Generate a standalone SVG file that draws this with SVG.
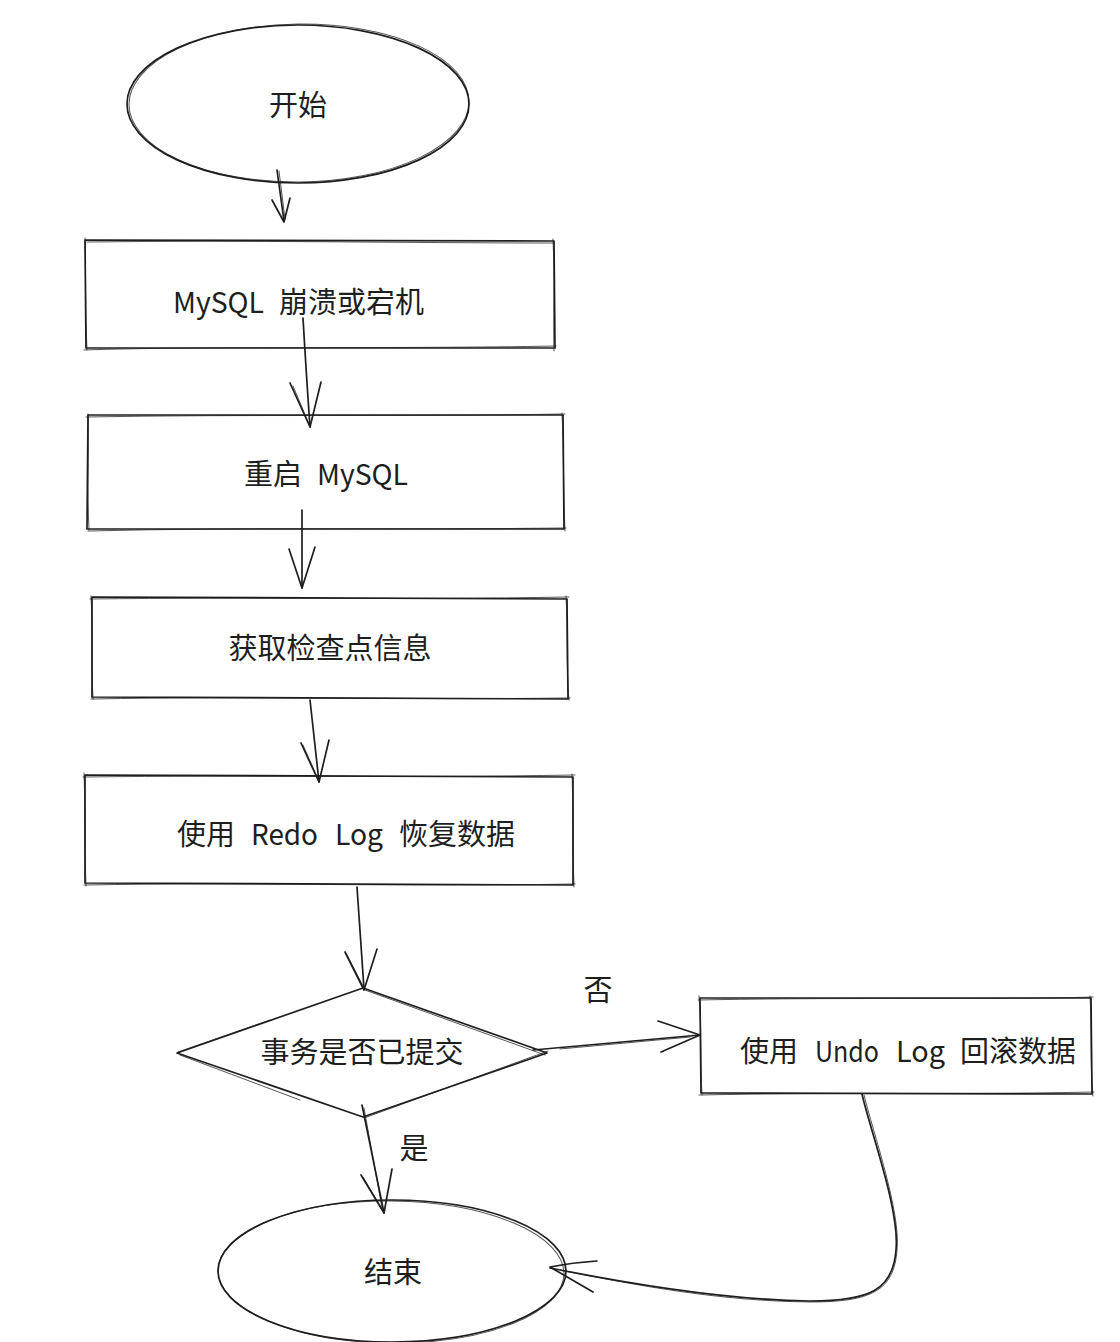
<svg xmlns="http://www.w3.org/2000/svg" width="1120" height="1342" viewBox="0 0 1120 1342">
<style>
.s{fill:none;stroke:#1e1e1e;stroke-width:1.7;stroke-linecap:round;stroke-linejoin:round}
.s2{fill:none;stroke:#1e1e1e;stroke-width:1;stroke-linecap:round;stroke-linejoin:round;opacity:.75}
.t{font-family:"Noto Sans CJK SC","Noto Sans",sans-serif;font-size:29px;fill:#1e1e1e;dominant-baseline:central}
.c{text-anchor:middle}
</style>
<rect x="0" y="0" width="1120" height="1342" fill="#ffffff"/>

<g id="connectors">
  <path class="s" d="M277,170 L284,221"/>
  <path class="s2" d="M279,171 L285,219"/>
  <path class="s" d="M272,200 L284,222 L290,198"/>

  <path class="s" d="M303,318 Q306,370 310,427"/>
  <path class="s" d="M290,383 L310,427 L321,382"/>
  <path class="s2" d="M293,386 L309,424"/>

  <path class="s" d="M302,510 L302,588"/>
  <path class="s" d="M289,549 L302,588 L315,547"/>

  <path class="s" d="M310,700 L319,782"/>
  <path class="s" d="M301,743 L319,782 L329,740"/>
  <path class="s2" d="M303,745 L318,779"/>

  <path class="s" d="M357,887 L364,989"/>
  <path class="s" d="M345,952 L364,990 L377,949"/>
  <path class="s2" d="M347,955 L363,986"/>

  <path class="s" d="M533,1050 L700,1035"/>
  <path class="s2" d="M560,1049 L690,1037"/>
  <path class="s" d="M658,1021 L700,1035 L661,1052"/>

  <path class="s" d="M362,1105 L384,1213"/>
  <path class="s2" d="M364,1108 L382,1208"/>
  <path class="s" d="M361,1175 L384,1213 L392,1169"/>
  <path class="s2" d="M363,1177 L382,1209"/>

  <path class="s" d="M862,1094 C870,1130 900,1210 896,1250 C893,1290 870,1301 810,1301 C720,1300 620,1282 550,1268"/>
  <path class="s2" d="M864,1095 C873,1132 901,1212 897,1250 C894,1291 871,1302 810,1302 C720,1301 640,1286 560,1270"/>
  <path class="s" d="M597,1261 C580,1262 565,1264 550,1267 L593,1292"/>
</g>

<g id="node-start">
  <ellipse class="s" cx="298" cy="104" rx="171" ry="79"/>
  <ellipse class="s2" cx="299" cy="103" rx="170" ry="79" transform="rotate(-0.6 299 103)"/>
  <text class="t c" x="298" y="103">开始</text>
</g>

<g id="node-crash">
  <path class="s" d="M85,240 L554,241 L555,348 L86,348 Z"/>
  <path class="s2" d="M87,242 C250,240 400,243 553,243 M553,239 C555,280 553,320 554,351 M556,346 C400,349 200,346 84,350 M87,350 C85,310 86,270 85,238"/>
  <text class="t" y="300"><tspan x="173" textLength="91" lengthAdjust="spacingAndGlyphs">MySQL</tspan><tspan x="279">崩溃或宕机</tspan></text>
</g>

<g id="node-restart">
  <path class="s" d="M88,415 L563,415 L564,529 L87,529 Z"/>
  <path class="s2" d="M86,417 C250,414 400,417 565,414 M562,413 C564,450 563,490 565,531 M566,528 C400,530 250,527 88,531 M89,530 C87,490 89,450 88,414"/>
  <text class="t" y="472"><tspan x="244">重启</tspan><tspan x="317" textLength="91" lengthAdjust="spacingAndGlyphs">MySQL</tspan></text>
</g>

<g id="node-checkpoint">
  <path class="s" d="M92,597 L567,599 L568,699 L92,697 Z"/>
  <path class="s2" d="M90,599 C250,597 400,600 569,597 M566,596 C568,630 566,670 569,700 M570,698 C400,700 250,696 91,699 M93,699 C91,660 93,630 91,596"/>
  <text class="t c" x="330" y="646">获取检查点信息</text>
</g>

<g id="node-redo">
  <path class="s" d="M85,775 L573,777 L573,885 L85,883 Z"/>
  <path class="s2" d="M83,777 C250,775 400,778 575,775 M572,774 C574,810 572,850 574,887 M575,884 C400,887 250,882 84,885 M86,886 C84,850 86,810 84,773"/>
  <text class="t" y="832"><tspan x="177">使用</tspan><tspan x="251" textLength="67" lengthAdjust="spacingAndGlyphs">Redo</tspan><tspan x="335" textLength="48" lengthAdjust="spacingAndGlyphs">Log</tspan><tspan x="399">恢复数据</tspan></text>
</g>

<g id="node-decision">
  <path class="s" d="M363,988 L547,1053 L363,1117 L177,1053 Z"/>
  <path class="s2" d="M365,990 L545,1055 M548,1051 L364,1118 M178,1052 L270,1020 M180,1055 L300,1100"/>
  <text class="t c" x="362" y="1050">事务是否已提交</text>
</g>

<g id="node-undo">
  <path class="s" d="M700,998 L1091,998 L1092,1094 L701,1093 Z"/>
  <path class="s2" d="M698,1000 C850,997 1000,1000 1093,997 M1090,996 C1092,1030 1090,1070 1093,1096 M1094,1092 C950,1095 850,1092 699,1095 M702,1095 C700,1060 702,1030 699,996"/>
  <text class="t" y="1049"><tspan x="740">使用</tspan><tspan x="815" textLength="64" lengthAdjust="spacingAndGlyphs">Undo</tspan><tspan x="896" textLength="49" lengthAdjust="spacingAndGlyphs">Log</tspan><tspan x="960">回滚数据</tspan></text>
</g>

<g id="node-end">
  <ellipse class="s" cx="392" cy="1271" rx="174" ry="71"/>
  <ellipse class="s2" cx="391" cy="1272" rx="173" ry="71" transform="rotate(0.6 391 1272)"/>
  <text class="t c" x="393" y="1270">结束</text>
</g>

<g id="labels">
  <text class="t c" x="598" y="988">否</text>
  <text class="t c" x="414" y="1146">是</text>
</g>
</svg>
